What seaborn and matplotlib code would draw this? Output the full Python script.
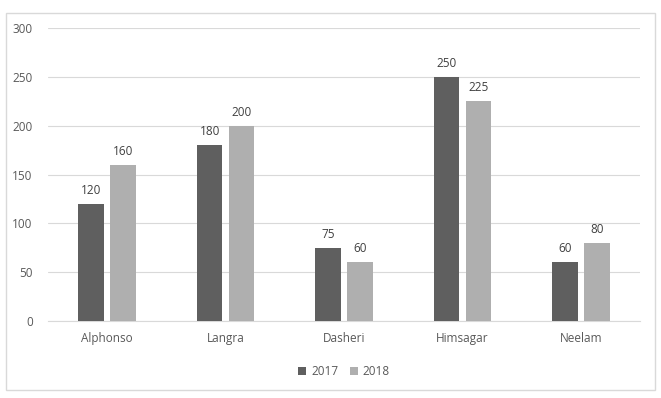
import matplotlib
matplotlib.use("Agg")
import matplotlib.pyplot as plt
import seaborn as sns
import pandas as pd
from matplotlib.patches import Rectangle

varieties = ["Alphonso", "Langra", "Dasheri", "Himsagar", "Neelam"]
sales_2017 = [120, 180, 75, 250, 60]
sales_2018 = [160, 200, 60, 225, 80]
years = ["2017", "2018"]

df = pd.DataFrame({
    "variety": varieties * 2,
    "year": [years[0]] * 5 + [years[1]] * 5,
    "value": sales_2017 + sales_2018,
})

sns.set_style("white")
plt.rcParams["font.family"] = ["Open Sans", "DejaVu Sans"]

fig = plt.figure(figsize=(6.61, 3.98), dpi=100)
ax = fig.add_axes([48 / 661, 77 / 398, 592 / 661, 293 / 398])

#outer chart border
fig.patches.append(Rectangle((6 / 661, 8 / 398), 649 / 661, 377 / 398, transform=fig.transFigure,
                             fill=False, edgecolor="#d9d9d9", linewidth=1))

sns.barplot(data=df, x="variety", y="value", hue="year", palette=["#5f5f5f", "#afafaf"],
            width=0.54, gap=0.2, saturation=1, linewidth=0, ax=ax, legend=True, zorder=3)

for cont in ax.containers:
    ax.bar_label(cont, padding=5, fontsize=8.5, color="#404040")

ax.set_ylim(0, 300)
ax.set_yticks(range(0, 301, 50))
ax.set_xlim(-0.5, 4.5)
ax.grid(axis="y", color="#d9d9d9", linewidth=0.8, zorder=0)
ax.set_xlabel("")
ax.set_ylabel("")
for s in ["top", "right", "left"]:
    ax.spines[s].set_visible(False)
ax.spines["bottom"].set_color("#d9d9d9")
ax.tick_params(axis="both", length=0, labelsize=8.5, labelcolor="#595959")
ax.tick_params(axis="y", pad=11)
ax.tick_params(axis="x", pad=8)

ax.legend(loc="upper center", bbox_to_anchor=(0.5, -0.115), ncol=2, frameon=False,
          fontsize=8.5, labelcolor="#595959", handlelength=0.7, handleheight=0.7,
          handletextpad=0.4, columnspacing=1.0)

fig.savefig("out.png", dpi=100)
